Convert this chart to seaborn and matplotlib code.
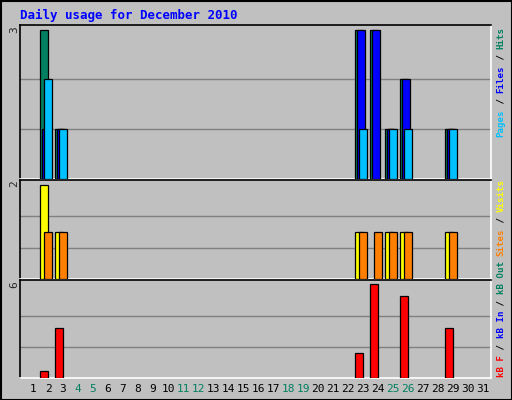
import matplotlib
matplotlib.use("Agg")
import matplotlib.pyplot as plt
import seaborn as sns
import numpy as np

sns.set_style("white")
plt.rcParams['font.family'] = ['DejaVu Sans Mono']

days = list(range(1, 32))
hits   = {2: 3, 3: 1, 23: 3, 24: 3, 25: 1, 26: 2, 29: 1}
files  = {2: 1, 3: 1, 23: 3, 24: 3, 25: 1, 26: 2, 29: 1}
pages  = {2: 2, 3: 1, 23: 1, 24: 0, 25: 1, 26: 1, 29: 1}
visits = {2: 2, 3: 1, 23: 1, 24: 0, 25: 1, 26: 1, 29: 1}
sites  = {2: 1, 3: 1, 23: 1, 24: 1, 25: 1, 26: 1, 29: 1}
kbf    = {2: 0.44, 3: 3.2, 23: 1.6, 24: 6.0, 26: 5.25, 29: 3.2}
weekend = [4, 5, 11, 12, 18, 19, 25, 26]

W, H = 512, 400
BG = "#C0C0C0"
fig = plt.figure(figsize=(W/100, H/100), dpi=100, facecolor=BG)

def px_axes(x0, y0, x1, y1):
    return fig.add_axes([x0/W, 1-y1/H, (x1-x0)/W, (y1-y0)/H])

XL = (1-13/15, 1-13/15+471/15)
PX = 1/15.0

def series(ax, d, left_px, w_px, color):
    xs = [k for k, v in d.items() if v > 0]
    hs = [d[k] for k in xs]
    ax.bar([x + left_px*PX for x in xs], hs, width=w_px*PX, align='edge',
           color=color, edgecolor='black', linewidth=0.9, zorder=3)

def style(ax, ymax, grid):
    ax.set_facecolor(BG)
    ax.set_xlim(*XL)
    ax.set_ylim(0, ymax)
    for g in grid:
        ax.axhline(g, color="#808080", lw=1, zorder=1)
    ax.set_xticks([]); ax.set_yticks([])
    for s in ['top', 'left']:
        ax.spines[s].set_color('black')
    for s in ['bottom', 'right']:
        ax.spines[s].set_color('white')
    for s in ax.spines.values():
        s.set_linewidth(1.2)

ax1 = px_axes(20, 25, 491, 179)
style(ax1, 3*151/146.5, [1, 2])
series(ax1, hits, -7.7, 7.3, "#008060")
series(ax1, files, -5.7, 7.3, "#0000FF")
series(ax1, pages, -3.7, 7.3, "#00C0FF")

ax2 = px_axes(20, 180, 491, 279)
style(ax2, 2*96.7/92, [2/3, 4/3])
series(ax2, visits, -7.7, 8, "#FFFF00")
series(ax2, sites, -3.7, 7.3, "#FF8000")

ax3 = px_axes(20, 280, 491, 378)
style(ax3, 6*96/91.7, [2, 4])
series(ax3, kbf, -7.7, 7.3, "#FF0000")

fig.patches.append(plt.Rectangle((0.5/W, 0.5/H), 1-1/W, 1-1/H, transform=fig.transFigure,
                                 fill=False, edgecolor='black', lw=1.5))

def ft(x, y, s, **kw):
    fig.text(x/W, 1-y/H, s, **kw)

ft(20, 15, "Daily usage for December 2010", color="#0000FF", fontsize=9,
   fontweight='bold', va='center', ha='left')
ft(14, 30, "3", rotation=90, fontsize=8, va='center', ha='center')
ft(14, 184, "2", rotation=90, fontsize=8, va='center', ha='center')
ft(14, 285, "6", rotation=90, fontsize=8, va='center', ha='center')

for d in days:
    ft(33 + 15*(d-1), 389, str(d), fontsize=8, ha='center', va='center',
       color="#008060" if d in weekend else "black")

FS = 6.6
STEP = 0.602 * FS * 100 / 72

def vlabel(parts, ybottom):
    y = ybottom
    for s, c in parts:
        ft(501, y, s, rotation=90, fontsize=FS, color=c, ha='center', va='bottom',
           fontweight='bold')
        y -= len(s) * STEP

vlabel([("Pages", "#00C0FF"), (" / ", "#000000"), ("Files", "#0000FF"),
        (" / ", "#000000"), ("Hits", "#008060")], 137)
vlabel([("Sites", "#FF8000"), (" / ", "#000000"), ("Visits", "#FFFF00")], 256)
vlabel([("kB F", "#FF0000"), (" / ", "#000000"), ("kB In", "#0000FF"),
        (" / ", "#000000"), ("kB Out", "#008060")], 377)

fig.savefig("out.png", dpi=100, facecolor=BG)
